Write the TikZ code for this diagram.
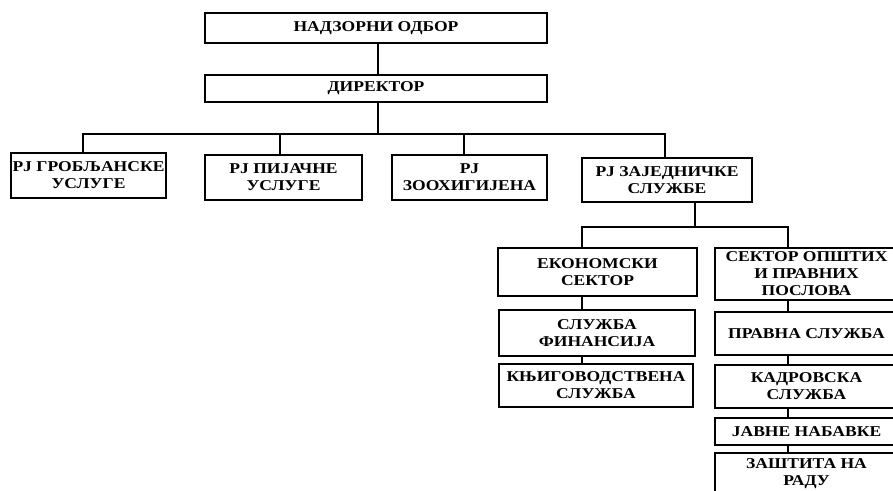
\documentclass[tikz,border=0pt]{standalone}
\usepackage{fontspec}
\setmainfont{Liberation Serif}[FakeStretch=1.17]
\begin{document}
\begin{tikzpicture}[x=1pt,y=-1pt,
  box/.style={draw,line width=1.6pt,rectangle,inner sep=0pt,align=center,
    font=\bfseries\fontsize{15}{17}\selectfont},
  link/.style={line width=1.3pt}]
\useasboundingbox (0,0) rectangle (893,490);
\clip (0,0) rectangle (893,490);
% top
\node[box,minimum width=342pt,minimum height=30pt] (nad) at (376,28) {НАДЗОРНИ ОДБОР};
\node[box,minimum width=342pt,minimum height=27pt] (dir) at (376,88.5) {ДИРЕКТОР};
% units
\node[box,minimum width=155pt,minimum height=45pt] (r1) at (88.5,175.5) {РЈ ГРОБЉАНСКЕ\\УСЛУГЕ};
\node[box,minimum width=157pt,minimum height=45pt] (r2) at (283.5,177.5) {РЈ ПИЈАЧНЕ\\УСЛУГЕ};
\node[box,minimum width=155pt,minimum height=45pt] (r3) at (469.5,177.5) {РЈ\\ЗООХИГИЈЕНА};
\node[box,minimum width=170pt,minimum height=44pt] (r4) at (667,180) {РЈ ЗАЈЕДНИЧКЕ\\СЛУЖБЕ};
% left column
\node[box,minimum width=199pt,minimum height=48pt] (e1) at (597.5,272) {ЕКОНОМСКИ\\СЕКТОР};
\node[box,minimum width=196pt,minimum height=46pt] (e2) at (597,333) {СЛУЖБА\\ФИНАНСИЈА};
\node[box,minimum width=194pt,minimum height=43pt] (e3) at (596,385.5) {КЊИГОВОДСТВЕНА\\СЛУЖБА};
% right column
\node[box,minimum width=183pt,minimum height=52pt] (s1) at (806.5,274) {СЕКТОР ОПШТИХ\\И ПРАВНИХ\\ПОСЛОВА};
\node[box,minimum width=183pt,minimum height=43pt] (s2) at (806.5,333.5) {ПРАВНА СЛУЖБА};
\node[box,minimum width=183pt,minimum height=43pt] (s3) at (806.5,386.5) {КАДРОВСКА\\СЛУЖБА};
\node[box,minimum width=183pt,minimum height=27pt] (s4) at (806.5,431.5) {ЈАВНЕ НАБАВКЕ};
\node[box,minimum width=183pt,minimum height=47pt,text depth=8pt] (s5) at (806.5,476.5) {ЗАШТИТА НА\\РАДУ};
% junctions
\coordinate (b0) at (378,134);
\coordinate (bL) at (83,134);
\coordinate (c2) at (280,134);
\coordinate (c3) at (464,134);
\coordinate (bR) at (665,134);
\coordinate (d0) at (695,227);
\coordinate (dL) at (582,227);
\coordinate (dR) at (788,227);
% connectors
\draw[link] (nad.south -| b0) -- (dir.north -| b0);
\draw[link] (dir.south -| b0) -- (b0);
\draw[link] (r1.north -| bL) -- (bL) -- (bR) -- (r4.north -| bR);
\draw[link] (r2.north -| c2) -- (c2);
\draw[link] (r3.north -| c3) -- (c3);
\draw[link] (r4.south -| d0) -- (d0);
\draw[link] (e1.north -| dL) -- (dL) -- (dR) -- (s1.north -| dR);
\draw[link] (e1.south -| dL) -- (e2.north -| dL);
\draw[link] (e2.south -| dL) -- (e3.north -| dL);
\draw[link] (s1.south -| dR) -- (s2.north -| dR);
\draw[link] (s2.south -| dR) -- (s3.north -| dR);
\draw[link] (s3.south -| dR) -- (s4.north -| dR);
\draw[link] (s4.south -| dR) -- (s5.north -| dR);
\end{tikzpicture}
\end{document}
